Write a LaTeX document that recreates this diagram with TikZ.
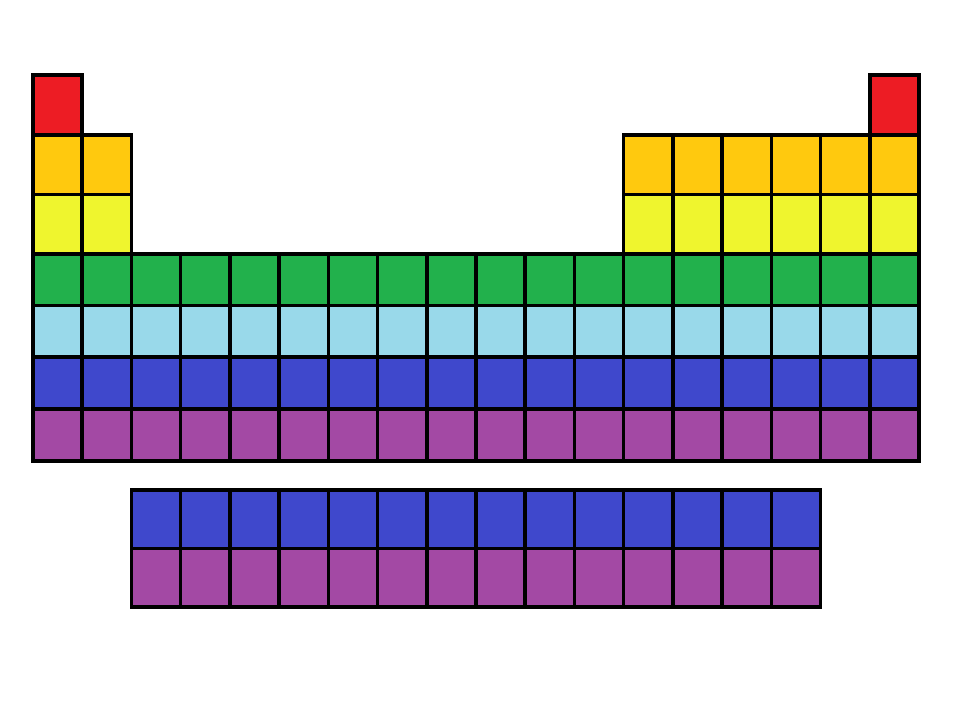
\documentclass[tikz,border=0pt]{standalone}
\definecolor{ptred}{HTML}{ED1C24}
\definecolor{ptorange}{HTML}{FFC90E}
\definecolor{ptyellow}{HTML}{EFF52E}
\definecolor{ptgreen}{HTML}{22B14C}
\definecolor{ptcyan}{HTML}{99D9EA}
\definecolor{ptblue}{HTML}{3F48CC}
\definecolor{ptpurple}{HTML}{A349A4}
\begin{document}
\begin{tikzpicture}[x=0.5pt,y=-0.5pt,
    cell/.style={draw=black, line width=1.8pt}]
  \useasboundingbox (0,0) rectangle (960,720);
  \def\cw{49.22}

  % Period 1
  \foreach \c in {1,18}
    \path[cell, fill=ptred] ({33+(\c-1)*\cw},75) rectangle ++(\cw,60);

  % Periods 2 and 3
  \foreach \c in {1,2,13,14,...,18} {
    \path[cell, fill=ptorange] ({33+(\c-1)*\cw},135) rectangle ++(\cw,59.5);
    \path[cell, fill=ptyellow] ({33+(\c-1)*\cw},194.5) rectangle ++(\cw,59.5);
  }

  % Periods 4 to 7
  \foreach \top/\h/\col in {254/51.5/ptgreen, 305.5/51.5/ptcyan,
                            357/52/ptblue, 409/52/ptpurple}
    \foreach \c in {1,...,18}
      \path[cell, fill=\col] ({33+(\c-1)*\cw},\top) rectangle ++(\cw,\h);

  % Lanthanides and actinides
  \foreach \c in {3,...,16} {
    \path[cell, fill=ptblue] ({33+(\c-1)*\cw},490) rectangle ++(\cw,58.5);
    \path[cell, fill=ptpurple] ({33+(\c-1)*\cw},548.5) rectangle ++(\cw,58.5);
  }
\end{tikzpicture}
\end{document}
